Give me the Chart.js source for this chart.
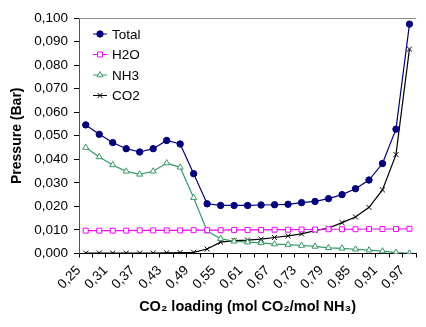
<!DOCTYPE html>
<html>
<head>
<meta charset="utf-8">
<script src="https://cdn.jsdelivr.net/npm/chart.js@4/dist/chart.umd.min.js"></script>
<style>
    html, body { margin: 0; padding: 0; background: #ffffff; }
    #wrap { width: 426px; height: 327px; }
</style>
</head>
<body>
<div id="wrap"><canvas id="pressureChart" width="426" height="327"></canvas></div>
<script>
// ===== DATA =====
// CO2 loading (mol CO2 / mol NH3)
const loadings = [0.25, 0.28, 0.31, 0.34, 0.37, 0.40, 0.43, 0.46, 0.49, 0.52, 0.55, 0.58, 0.61,
                  0.64, 0.67, 0.70, 0.73, 0.76, 0.79, 0.82, 0.85, 0.88, 0.91, 0.94, 0.97];

// Partial / total pressures (Bar)
const totalPressure = [0.0546, 0.0506, 0.0471, 0.0445, 0.0431, 0.0445, 0.0480, 0.0465, 0.0339, 0.0211,
                       0.0204, 0.0204, 0.0204, 0.0206, 0.0207, 0.0209, 0.0216, 0.0221, 0.0233, 0.0250,
                       0.0275, 0.0312, 0.0382, 0.0528, 0.0974];
const h2oPressure = [0.0097, 0.0097, 0.0097, 0.0097, 0.0098, 0.0098, 0.0098, 0.0098, 0.0099, 0.0099,
                     0.0099, 0.0100, 0.0100, 0.0100, 0.0101, 0.0101, 0.0102, 0.0102, 0.0103, 0.0103,
                     0.0103, 0.0104, 0.0104, 0.0104, 0.0105];
const nh3Pressure = [0.0450, 0.0410, 0.0376, 0.0349, 0.0336, 0.0349, 0.0384, 0.0366, 0.0237, 0.0095,
                     0.0063, 0.0052, 0.0048, 0.0045, 0.0040, 0.0038, 0.0034, 0.0030, 0.0024, 0.0022,
                     0.0018, 0.0014, 0.0010, 0.0004, 0.0001];
const co2Pressure = [0.0002, 0.0002, 0.0002, 0.0002, 0.0002, 0.0002, 0.0003, 0.0004, 0.0005, 0.0019,
                     0.0048, 0.0055, 0.0057, 0.0061, 0.0068, 0.0075, 0.0083, 0.0097, 0.0108, 0.0131,
                     0.0155, 0.0196, 0.0270, 0.0420, 0.0868];

// Y axis range
const yMin = 0;
const yMax = 0.1;
const yStep = 0.01;

const FONT = "'Liberation Sans', Arial, sans-serif";

// decimal comma labels
function commaFmt(v, digits) {
    return v.toFixed(digits).replace('.', ',');
}

// Draws the legend inside the plot, top-left
const insideLegend = {
    id: 'insideLegend',
    afterDatasetsDraw(chart) {
        const ctx = chart.ctx;
        const area = chart.chartArea;
        const x0 = area.left + 14;
        chart.data.datasets.forEach((ds, i) => {
            const y = area.top + 16 + i * 20.5;
            ctx.save();
            ctx.strokeStyle = ds.borderColor;
            ctx.lineWidth = 1;
            ctx.beginPath();
            ctx.moveTo(x0, y);
            ctx.lineTo(x0 + 14, y);
            ctx.stroke();
            ctx.fillStyle = ds.pointBackgroundColor;
            ctx.strokeStyle = ds.pointBorderColor;
            Chart.helpers.drawPoint(ctx, {
                pointStyle: ds.pointStyle,
                radius: ds.pointRadius,
                rotation: 0,
                borderWidth: 1
            }, x0 + 7, y);
            ctx.fillStyle = '#000';
            ctx.font = '13.5px ' + FONT;
            ctx.textBaseline = 'middle';
            ctx.textAlign = 'left';
            ctx.fillText(ds.label, x0 + 19, y + 1);
            ctx.restore();
        });
    }
};

// Gray frame line along the top of the plot area
const topBorder = {
    id: 'topBorder',
    beforeDatasetsDraw(chart) {
        const ctx = chart.ctx;
        const area = chart.chartArea;
        ctx.save();
        ctx.strokeStyle = '#8c8c8c';
        ctx.lineWidth = 1;
        ctx.beginPath();
        ctx.moveTo(area.left, area.top + 0.5);
        ctx.lineTo(area.right, area.top + 0.5);
        ctx.stroke();
        ctx.restore();
    }
};

function makeSeries(label, data, color, style, fill, radius) {
    return {
        label: label,
        data: data,
        borderColor: color,
        backgroundColor: color,
        borderWidth: 1.2,
        pointStyle: style,
        pointRadius: radius,
        pointHoverRadius: radius,
        pointBackgroundColor: fill,
        pointBorderColor: color,
        pointBorderWidth: 1,
        tension: 0
    };
}

function initializeChart() {
    const ctx = document.getElementById('pressureChart');
    if (!ctx) return;

    new Chart(ctx.getContext('2d'), {
        type: 'line',
        data: {
            labels: loadings.map(v => commaFmt(v, 2)),
            datasets: [
                makeSeries('Total', totalPressure, '#000080', 'circle', '#000080', 3.2),
                makeSeries('H2O', h2oPressure, '#ff00ff', 'rect', '#ffffff', 3.5),
                makeSeries('NH3', nh3Pressure, '#339966', 'triangle', '#ffffff', 3.5),
                makeSeries('CO2', co2Pressure, '#000000', 'crossRot', '#000000', 3.5)
            ]
        },
        options: {
            responsive: false,
            animation: false,
            devicePixelRatio: 1,
            layout: { padding: { top: 18, right: 0, left: 0, bottom: 0 } },
            plugins: {
                legend: { display: false },
                tooltip: { enabled: false }
            },
            scales: {
                x: {
                    offset: true,
                    grid: {
                        offset: true,
                        drawOnChartArea: false,
                        color: '#000',
                        tickLength: 4
                    },
                    border: { color: '#000', width: 1 },
                    ticks: {
                        autoSkip: false,
                        minRotation: 45,
                        maxRotation: 45,
                        padding: 5,
                        labelOffset: -7,
                        color: '#000',
                        font: { family: FONT, size: 13.5 },
                        callback: function(value, index) {
                            return index % 2 ? '' : this.getLabelForValue(value);
                        }
                    },
                    title: {
                        display: true,
                        text: 'CO\u2082 loading (mol CO\u2082/mol NH\u2083)',
                        color: '#000',
                        font: { family: FONT, size: 14.5, weight: 'bold' },
                        padding: { top: 0, bottom: 11 }
                    },
                    afterFit: function(scale) { scale.height = 73.5; }
                },
                y: {
                    min: yMin,
                    max: yMax,
                    grid: {
                        drawOnChartArea: false,
                        color: '#000',
                        tickLength: 5
                    },
                    border: { color: '#555', width: 1 },
                    ticks: {
                        stepSize: yStep,
                        padding: 6,
                        color: '#000',
                        font: { family: FONT, size: 13.5 },
                        callback: function(value) { return commaFmt(value, 3); }
                    },
                    title: {
                        display: true,
                        text: 'Pressure (Bar)',
                        color: '#000',
                        font: { family: FONT, size: 14, weight: 'bold' },
                        padding: { top: 9, bottom: 0 }
                    },
                    afterFit: function(scale) { scale.width = 79; }
                }
            }
        },
        plugins: [topBorder, insideLegend]
    });
}

document.addEventListener('DOMContentLoaded', initializeChart);
</script>
</body>
</html>
